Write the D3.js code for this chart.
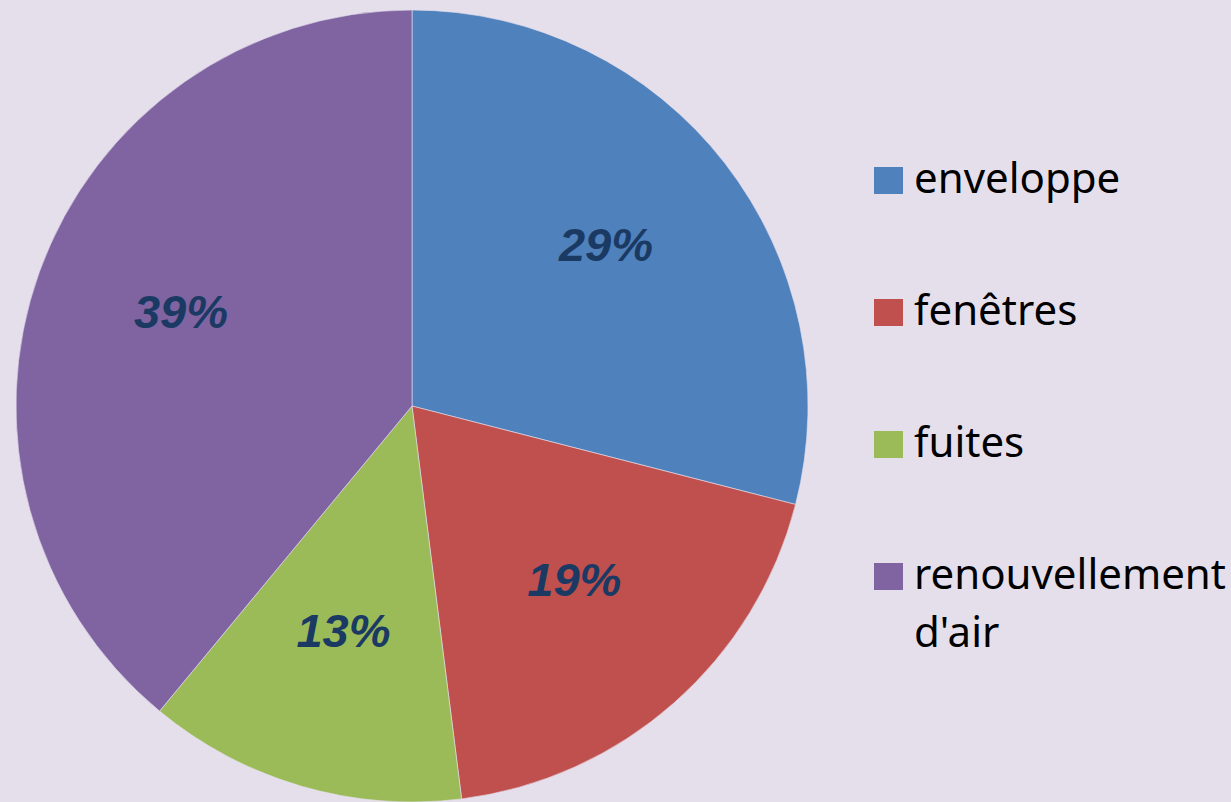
<!DOCTYPE html>
<html><head><meta charset="utf-8">
<script src="https://cdn.jsdelivr.net/npm/d3@7"></script>
<style>html,body{margin:0;padding:0;background:#E5DFEC;}svg{display:block;}</style>
</head><body>
<svg id="chart" width="1231" height="802"></svg>
<script>
const categories = ["enveloppe", "fenêtres", "fuites", "renouvellement d'air"];
const values = [29, 19, 13, 39];
const colors = ["#4F81BD", "#C0504D", "#9BBB59", "#8064A2"];
const legendLines = [["enveloppe"], ["fenêtres"], ["fuites"], ["renouvellement", "d'air"]];

const svg = d3.select("#chart");
svg.append("rect").attr("width", 1231).attr("height", 802).attr("fill", "#E5DFEC");

const cx = 412, cy = 406, r = 396;
const total = d3.sum(values);
const pie = d3.pie().sort(null).value(d => d)(values);
const arc = d3.arc().innerRadius(0).outerRadius(r);
const labelArc = d3.arc().innerRadius(r * 0.62).outerRadius(r * 0.62);

const g = svg.append("g").attr("transform", `translate(${cx},${cy})`);
g.selectAll("path").data(pie).join("path")
  .attr("d", arc)
  .attr("fill", (d, i) => colors[i])
  .attr("stroke", "#E5DFEC").attr("stroke-width", 0.6);

g.selectAll("text.lbl").data(pie).join("text")
  .attr("class", "lbl")
  .attr("transform", d => `translate(${labelArc.centroid(d)})`)
  .attr("text-anchor", "middle")
  .attr("dy", "0.12em")
  .attr("font-family", "'Liberation Sans', Arial, sans-serif")
  .attr("font-weight", "bold").attr("font-style", "italic")
  .attr("font-size", 47)
  .attr("fill", "#1B3A63")
  .text(d => Math.round(d.data / total * 100) + "%");

const legend = svg.append("g").attr("transform", "translate(874,0)");
const ly = d3.scaleBand().domain(categories).range([127, 655]);
categories.forEach((c, i) => {
  const y0 = ly(c) + ly.bandwidth() / 2;
  legend.append("rect").attr("x", 0).attr("y", y0 - 26).attr("width", 29).attr("height", 27).attr("fill", colors[i]);
  const t = legend.append("text").attr("x", 40).attr("y", y0)
    .attr("font-family", "'Noto Sans', sans-serif").attr("font-size", 42).attr("fill", "#000");
  legendLines[i].forEach((ln, k) => {
    t.append("tspan").attr("x", 40).attr("dy", k === 0 ? 0 : 58).text(ln);
  });
});
</script>
</body></html>
